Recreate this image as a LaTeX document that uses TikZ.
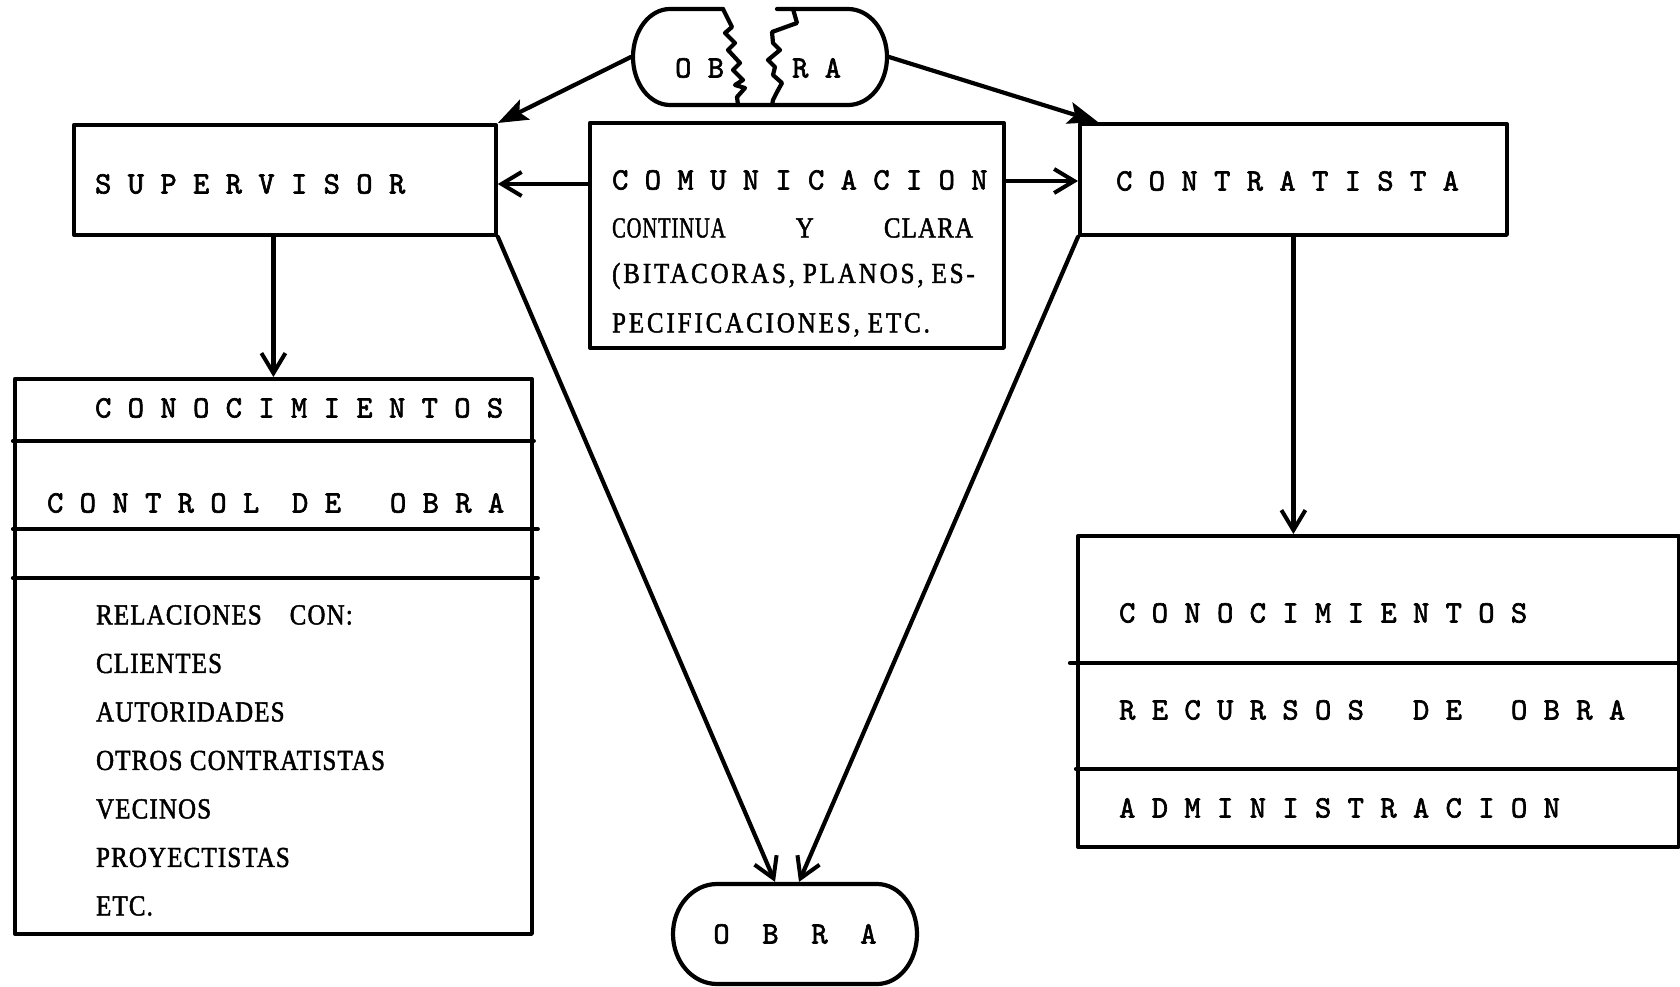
\documentclass[tikz,border=0pt]{standalone}
\usepackage{fontspec}
\usepackage{graphicx}
\usetikzlibrary{arrows.meta}
\newfontfamily\listfont{Liberation Serif}[FakeStretch=0.86,FakeBold=1.6]
\newfontfamily\typew{lmmono10-regular.otf}[FakeBold=2]
\begin{document}
\begin{tikzpicture}[x=1pt,y=-1pt,
  line width=4.2pt, line join=round, line cap=round,
  ln/.style={line width=4.2pt},
  frame/.style={draw, line width=3.8pt, inner sep=0pt, anchor=north west},
  ghost/.style={inner sep=0pt},
  spaced/.style={font=\typew\fontsize{31.1}{36}\selectfont, inner sep=0pt, anchor=west},
  plain/.style={font=\listfont\fontsize{29}{34}\selectfont\addfontfeature{LetterSpace=4}, inner sep=0pt, anchor=west},
  wide/.style={plain, font=\listfont\fontsize{29}{34}\selectfont\addfontfeature{LetterSpace=10}},
  arr/.style={ln, -{Straight Barb[length=20pt,width=24pt,line width=4pt]}},
  bigarr/.style={ln, -{Stealth[length=30pt,width=22pt,inset=6pt]}},
]
\useasboundingbox[fill=white] (0,0) rectangle (1680,987);

% ---- top "OBRA" capsule, broken in two ----
\node[ghost, minimum width=254pt, minimum height=96pt] (obraT) at (760,57) {};
\draw[ln] (723,9) -- (670,9) arc[start angle=270, end angle=90, x radius=37, y radius=48]
      -- (848,105) arc[start angle=90, end angle=-90, x radius=39, y radius=48] -- (777,9);
\draw[ln] (723,9) -- (732,27) -- (725,33) -- (735,43) -- (728,50) -- (740,63) -- (733,70)
      -- (743,80) -- (735,85) -- (745,88) -- (737,97) -- (738,105);
\draw[ln] (793,9) -- (797,23) -- (772,32) -- (773,43) -- (780,50) -- (768,60) -- (775,67)
      -- (773,75) -- (782,83) -- (777,92) -- (773,100) -- (772,105);
\node[spaced] (obraTa) at (673,68) {O B};
\node[spaced] (obraTb) at (790,68) {R A};

% ---- main boxes ----
\node[frame, minimum width=422pt, minimum height=110pt] (sup) at (72,123) {};
\node[spaced] (supT) at (93,184) {S U P E R V I S O R};

\node[frame, minimum width=414pt, minimum height=225pt] (com) at (588,121) {};
\node[spaced] (comT1) at (610,180) {C O M U N I C A C I O N};
\node[plain] (comT2) at (610,228) {\makebox[361pt][s]{\scalebox{0.82}[1]{CONTINUA}\hfill Y\hfill CLARA}};
\node[wide] (comT3) at (610,276) {(BITACORAS,\hspace{8pt}PLANOS,\hspace{8pt}ES-};
\node[wide] (comT4) at (610,325) {PECIFICACIONES,\hspace{8pt}ETC.};

\node[frame, minimum width=427pt, minimum height=111pt] (con) at (1078,122) {};
\node[spaced] (conT) at (1114,181) {C O N T R A T I S T A};

% ---- supervisor's stacked box ----
\node[frame, minimum width=517pt, minimum height=555pt] (lbox) at (13,377) {};
\draw[ln] (lbox.west |- 0,441) -- (lbox.east |- 0,441);
\draw[ln] (lbox.west |- 0,529) -- ([xshift=4pt]lbox.east |- 0,529);
\draw[ln] (lbox.west |- 0,578) -- ([xshift=4pt]lbox.east |- 0,578);
\node[spaced] (lk) at (93,408) {C O N O C I M I E N T O S};
\node[spaced] (lc) at (45,503) {C O N T R O L~~D E~~~O B R A};
\foreach \t [count=\i] in {RELACIONES\hspace{28pt}CON:, CLIENTES, AUTORIDADES,
    OTROS CONTRATISTAS, VECINOS, PROYECTISTAS, ETC.}
  \node[plain] (rel\i) at (94,566.5+48.5*\i) {\t};

% ---- contractor's stacked box ----
\node[frame, minimum width=601pt, minimum height=311pt] (rbox) at (1076,534) {};
\draw[ln] ([xshift=-6pt]rbox.west |- 0,663) -- (rbox.east |- 0,663);
\draw[ln] (rbox.west |- 0,769) -- (rbox.east |- 0,769);
\node[spaced] (rk) at (1117,613) {C O N O C I M I E N T O S};
\node[spaced] (rr) at (1117,710) {R E C U R S O S~~~D E~~~O B R A};
\node[spaced] (ra) at (1117,808) {A D M I N I S T R A C I O N};

% ---- bottom "OBRA" capsule ----
\node[ghost, minimum width=244pt, minimum height=100pt] (obraB) at (795,934) {};
\draw[ln] (717,884) -- (877,884) arc[start angle=270, end angle=450, x radius=40, y radius=50]
      -- (717,984) arc[start angle=90, end angle=270, x radius=44, y radius=50] -- cycle;
\node[spaced, anchor=center] (obraBT) at (795,934) {O~~B~~R~~A};

% ---- connectors ----
\draw[bigarr] (obraT.west) -- (sup.north east);
\draw[bigarr] (obraT.east) -- ([xshift=20pt]con.north west);
\draw[arr] (com.west |- supT.west) -- (sup.east |- supT.west);
\draw[arr] (com.east |- conT.west) -- (con.west |- conT.west);
\draw[arr] (sup.south -| lbox.north) -- (lbox.north);
\draw[arr] (con.south) -- (con.south |- rbox.north);
\draw[arr] (sup.south east) -- ([xshift=-20pt]obraB.north);
\draw[arr] (con.south west) -- ([xshift=4pt]obraB.north);
\end{tikzpicture}
\end{document}
